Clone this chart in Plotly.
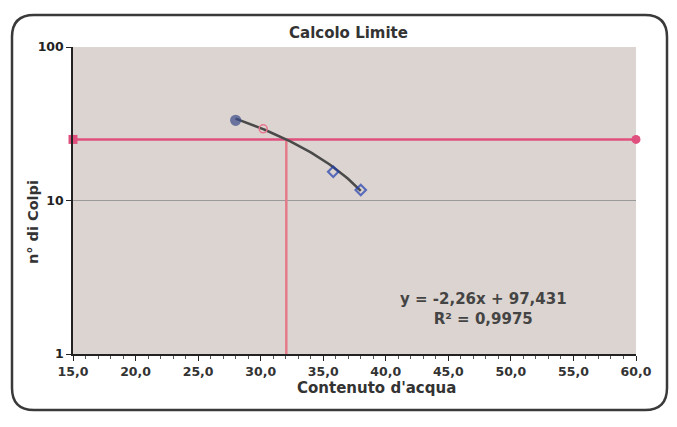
import plotly.graph_objects as go

# data
water = [28.0, 35.8, 38.0]
blows = [33.3, 15.4, 11.7]
trend_slope = -2.26
trend_intercept = 97.431
trend_x_range = [28.0, 38.0]
interp_x = [30.2]
interp_y = [29.3]
limit_blows = 25
limit_water = 32.05
x_span = [15.0, 60.0]
x_ticks = [15, 20, 25, 30, 35, 40, 45, 50, 55, 60]
y_ticks = [1, 10, 100]

n = 60
tx = [trend_x_range[0] + (trend_x_range[1] - trend_x_range[0]) * i / (n - 1) for i in range(n)]
ty = [trend_slope * v + trend_intercept for v in tx]

PINK = "#e0507e"
FONT = "DejaVu Sans, sans-serif"
fig = go.Figure()

fig.add_trace(go.Scatter(x=[x_span[0], x_span[1]], y=[limit_blows, limit_blows], mode="lines+markers",
                         line=dict(color=PINK, width=2.5),
                         marker=dict(symbol=["square", "circle"], size=9, color=PINK),
                         cliponaxis=False, showlegend=False))
fig.add_trace(go.Scatter(x=[limit_water, limit_water], y=[limit_blows, 1], mode="lines",
                         line=dict(color="#e57a8a", width=2.5), cliponaxis=False, showlegend=False))
fig.add_trace(go.Scatter(x=tx, y=ty, mode="lines", line=dict(color="#4a4a4a", width=2.5), showlegend=False))
fig.add_trace(go.Scatter(x=interp_x, y=interp_y, mode="markers",
                         marker=dict(symbol="circle-open", size=8, color="#e8788f", line=dict(width=1.5)),
                         showlegend=False))
fig.add_trace(go.Scatter(x=water, y=blows, mode="markers",
                         marker=dict(symbol=["circle", "diamond-open", "diamond-open"], size=[9, 8, 8],
                                     color=["#3a4a8a", "#1f3fb0", "#1f3fb0"],
                                     line=dict(width=2.2, color=["#3a4a8a", "#1f3fb0", "#1f3fb0"])),
                         showlegend=False))

# page body has an 8px margin, so the figure is shifted by 8px
fig.update_layout(
    width=669, height=419,
    margin=dict(l=65, r=41, t=39, b=73),
    paper_bgcolor="white", plot_bgcolor="#dcd4d0",
    separators=",.",
    font=dict(family=FONT, color="#333333"),
    showlegend=False,
)
fig.update_xaxes(range=x_span, tickvals=x_ticks,
                 ticktext=[f"<b>{v:.1f}</b>".replace(".", ",") for v in x_ticks],
                 showgrid=False, zeroline=False,
                 showline=True, linecolor="#222", linewidth=1.5, ticks="outside", ticklen=5,
                 tickcolor="#222", tickfont=dict(size=12.5, family=FONT, color="#333"),
                 minor=dict(ticks="outside", ticklen=3, dtick=1, tickcolor="#555"))
fig.update_yaxes(type="log", range=[0, 2], tickvals=y_ticks, ticktext=[f"<b>{v}</b>" for v in y_ticks],
                 showgrid=True, gridcolor="#9a9a9a", gridwidth=1.2, zeroline=False,
                 showline=True, linecolor="#222", linewidth=1.5, ticks="outside", ticklen=5,
                 tickcolor="#222", tickfont=dict(size=12.5, family=FONT, color="#222"))

def ann(text, px, py, size, angle=0, color="#333"):
    fig.add_annotation(text=text, xref="paper", yref="paper", x=(px - 73) / 563, y=(354 - py) / 307,
                       xanchor="center", yanchor="middle", showarrow=False, textangle=angle,
                       align="center", font=dict(size=size, color=color, family=FONT))

ann("<b>Calcolo Limite</b>", 348, 33, 15)
ann("<b>Contenuto d'acqua</b>", 376, 388, 15)
ann("<b>n° di Colpi</b>", 33, 222, 14.5, angle=-90)
ann("<b>y = -2,26x + 97,431<br>R² = 0,9975</b>", 483, 309, 15, color="#444")

# rounded outer frame (paper coords)
L, R = (12 - 73) / 563, (667 - 73) / 563
T, B = (354 - 15) / 307, (354 - 410) / 307
rx, ry = 22 / 563, 22 / 307
path = (f"M {L+rx},{T} L {R-rx},{T} Q {R},{T} {R},{T-ry} L {R},{B+ry} Q {R},{B} {R-rx},{B} "
        f"L {L+rx},{B} Q {L},{B} {L},{B+ry} L {L},{T-ry} Q {L},{T} {L+rx},{T} Z")
fig.add_shape(type="path", path=path, xref="paper", yref="paper", line=dict(color="#3a3a3a", width=2.5),
              layer="below")

fig.write_html("out.html")
